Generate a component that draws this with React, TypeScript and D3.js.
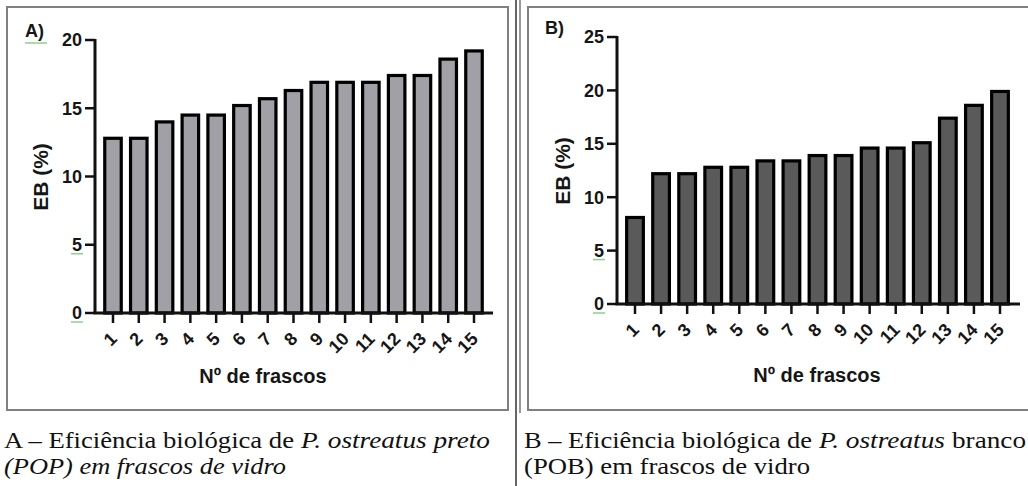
import React, { useEffect, useRef } from 'react';
import * as d3 from 'd3';

// Nº de frascos (eixo x)
const frascos = ['1', '2', '3', '4', '5', '6', '7', '8', '9', '10', '11', '12', '13', '14', '15'];

// EB (%) - P. ostreatus preto (POP)
const ebPreto = [12.8, 12.8, 14.0, 14.5, 14.5, 15.2, 15.7, 16.3, 16.9, 16.9, 16.9, 17.4, 17.4, 18.6, 19.2];

// EB (%) - P. ostreatus branco (POB)
const ebBranco = [8.1, 12.2, 12.2, 12.8, 12.8, 13.4, 13.4, 13.9, 13.9, 14.6, 14.6, 15.1, 17.4, 18.6, 19.9];

const ticksPreto = [0, 5, 10, 15, 20];
const ticksBranco = [0, 5, 10, 15, 20, 25];

const panels = [
    {
        tag: 'A)', tagX: 25, tagY: 37,
        values: ebPreto, ticks: ticksPreto, yMax: 20,
        fill: '#a0a0a6',
        axisX: 95, axisEnd: 493, yBase: 313, yTop: 40,
        firstTick: 113, lastTick: 474,
        ebX: 48, ebY: 177, titleX: 263, titleY: 383,
    },
    {
        tag: 'B)', tagX: 545, tagY: 34,
        values: ebBranco, ticks: ticksBranco, yMax: 25,
        fill: '#5a5a5a',
        axisX: 617, axisEnd: 1020, yBase: 304, yTop: 37,
        firstTick: 635, lastTick: 1000,
        ebX: 570, ebY: 171, titleX: 817, titleY: 382,
    },
];

const sans = '"Liberation Sans", Arial, sans-serif';
const serif = '"Liberation Serif", "Times New Roman", serif';

const App = () => {
    const svgRef = useRef<SVGSVGElement>(null);

    useEffect(() => {
        const svg = d3.select(svgRef.current);
        svg.selectAll('*').remove();

        // frames around the panels and the table separator
        svg.append('rect').attr('x', 7).attr('y', 7).attr('width', 501).attr('height', 403)
            .attr('fill', 'none').attr('stroke', '#808080').attr('stroke-width', 2);
        svg.append('rect').attr('x', 528).attr('y', 7).attr('width', 520).attr('height', 403)
            .attr('fill', 'none').attr('stroke', '#808080').attr('stroke-width', 2);
        svg.append('line').attr('x1', 516).attr('x2', 516).attr('y1', 0).attr('y2', 486)
            .attr('stroke', '#333').attr('stroke-width', 1.5);
        svg.append('line').attr('x1', 520).attr('x2', 520).attr('y1', 0).attr('y2', 413)
            .attr('stroke', '#555').attr('stroke-width', 1.2);

        panels.forEach(p => {
            const g = svg.append('g');

            const x = d3.scalePoint<string>()
                .domain(frascos)
                .range([p.firstTick, p.lastTick]);
            const y = d3.scaleLinear()
                .domain([0, p.yMax])
                .range([p.yBase, p.yTop]);
            const bw = x.step() * 0.64;

            // bars
            g.selectAll('.bar')
                .data(p.values)
                .enter().append('rect')
                .attr('class', 'bar')
                .attr('x', (d, i) => (x(frascos[i]) as number) - bw / 2)
                .attr('y', d => y(d))
                .attr('width', bw)
                .attr('height', d => y(0) - y(d))
                .attr('fill', p.fill)
                .attr('stroke', '#000')
                .attr('stroke-width', 3.2);

            // y axis
            g.append('line')
                .attr('x1', p.axisX).attr('x2', p.axisX)
                .attr('y1', y(0)).attr('y2', y(p.yMax) - 1)
                .attr('stroke', '#111').attr('stroke-width', 3);
            g.selectAll('.ytick')
                .data(p.ticks)
                .enter().append('line')
                .attr('x1', p.axisX - 10).attr('x2', p.axisX)
                .attr('y1', d => y(d)).attr('y2', d => y(d))
                .attr('stroke', '#111').attr('stroke-width', 2.5);
            g.selectAll('.ylab')
                .data(p.ticks)
                .enter().append('text')
                .attr('x', p.axisX - 13)
                .attr('y', d => y(d))
                .attr('dy', '0.36em')
                .attr('text-anchor', 'end')
                .style('font-family', sans)
                .style('font-weight', 'bold')
                .style('font-size', '18px')
                .attr('fill', '#161616')
                .text(d => d);

            // spell-check marks under "0" and "5"
            g.selectAll('.squiggle')
                .data([0, 5])
                .enter().append('line')
                .attr('x1', p.axisX - 24).attr('x2', p.axisX - 12)
                .attr('y1', d => y(d) + 9).attr('y2', d => y(d) + 9)
                .attr('stroke', '#8fcf8f').attr('stroke-width', 1.5);

            // x axis
            g.append('line')
                .attr('x1', p.axisX - 1.5).attr('x2', p.axisEnd)
                .attr('y1', y(0)).attr('y2', y(0))
                .attr('stroke', '#111').attr('stroke-width', 3);
            g.selectAll('.xtick')
                .data(frascos)
                .enter().append('line')
                .attr('x1', d => x(d) as number).attr('x2', d => x(d) as number)
                .attr('y1', y(0)).attr('y2', y(0) + 10)
                .attr('stroke', '#111').attr('stroke-width', 2.5);
            g.selectAll('.xlab')
                .data(frascos)
                .enter().append('text')
                .attr('transform', d => `translate(${(x(d) as number) + 5},${y(0) + 27}) rotate(-45)`)
                .attr('text-anchor', 'end')
                .style('font-family', sans)
                .style('font-weight', 'bold')
                .style('font-size', '18px')
                .attr('fill', '#161616')
                .text(d => d);

            // axis titles
            g.append('text')
                .attr('transform', `translate(${p.ebX},${p.ebY}) rotate(-90)`)
                .attr('text-anchor', 'middle')
                .style('font-family', sans)
                .style('font-weight', 'bold')
                .style('font-size', '21px')
                .attr('fill', '#161616')
                .text('EB (%)');
            g.append('text')
                .attr('x', p.titleX).attr('y', p.titleY)
                .attr('text-anchor', 'middle')
                .style('font-family', sans)
                .style('font-weight', 'bold')
                .style('font-size', '20px')
                .attr('fill', '#161616')
                .text('Nº de frascos');

            // panel tag
            g.append('text')
                .attr('x', p.tagX).attr('y', p.tagY)
                .style('font-family', sans)
                .style('font-weight', 'bold')
                .style('font-size', '18px')
                .attr('fill', '#161616')
                .text(p.tag);
        });

        svg.append('line').attr('x1', 25).attr('x2', 47).attr('y1', 43).attr('y2', 43)
            .attr('stroke', '#8fcf8f').attr('stroke-width', 1.5);

        // captions: each run placed and stretched to the width it has in the figure
        const run = (txt: string, xPos: number, yPos: number, len: number, italic = false) =>
            svg.append('text')
                .attr('x', xPos).attr('y', yPos)
                .attr('textLength', len)
                .attr('lengthAdjust', 'spacingAndGlyphs')
                .style('font-family', serif)
                .style('font-size', '24px')
                .style('font-style', italic ? 'italic' : 'normal')
                .attr('fill', '#111')
                .text(txt);

        run('A – Eficiência biológica de', 4, 448, 290);
        run('P. ostreatus preto', 301, 448, 189, true);
        run('(POP) em frascos de vidro', 4, 474, 282, true);

        run('B – Eficiência biológica de', 524, 448, 288);
        run('P. ostreatus', 819, 448, 126, true);
        run('branco', 952, 448, 74);
        run('(POB) em frascos de vidro', 524, 474, 286);
    }, []);

    return (
        <svg ref={svgRef} width={1028} height={486}
            style={{ position: 'absolute', left: 0, top: 0, background: '#fff' }} />
    );
};

export default App;
